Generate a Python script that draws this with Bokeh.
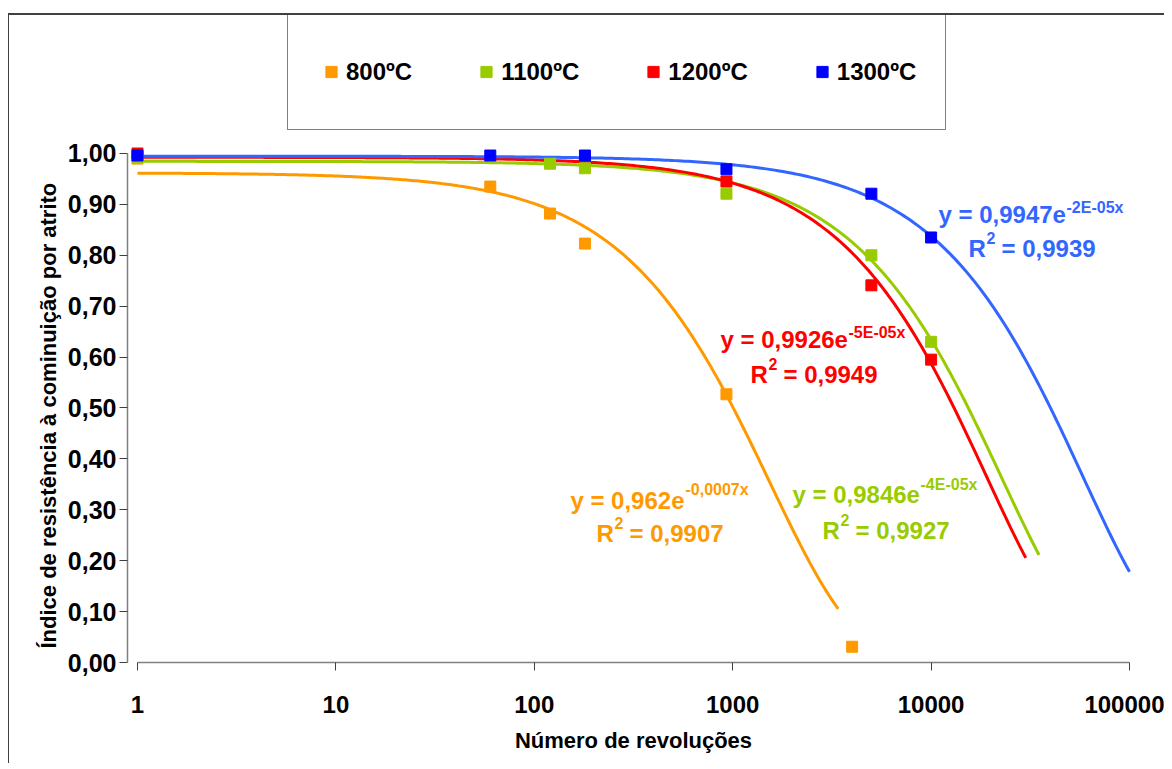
import numpy as np
from bokeh.plotting import figure
from bokeh.models import (ColumnDataSource, FixedTicker, CustomJSTickFormatter, Legend,
                          LegendItem, Label, Range1d, Title)
from bokeh.embed import file_html
from bokeh.resources import INLINE

FONT = "Liberation Sans"

# ---------------- data ----------------
series_labels = ["800ºC", "1100ºC", "1200ºC", "1300ºC"]
marker_colors = ["#FF9900", "#99CC00", "#FF0000", "#0000FF"]
line_colors = ["#FF9900", "#99CC00", "#FF0000", "#3366FF"]

x_800 = [1, 60, 120, 180, 930, 4000]
y_800 = [0.990, 0.935, 0.882, 0.823, 0.527, 0.031]
x_1100 = [1, 120, 180, 930, 5000, 10000]
y_1100 = [0.993, 0.980, 0.971, 0.921, 0.800, 0.630]
x_1200 = [1, 930, 5000, 10000]
y_1200 = [1.000, 0.945, 0.741, 0.595]
x_1300 = [1, 60, 180, 930, 5000, 10000]
y_1300 = [0.996, 0.996, 0.996, 0.969, 0.921, 0.835]

xs_all = [x_800, x_1100, x_1200, x_1300]
ys_all = [y_800, y_1100, y_1200, y_1300]

# exponential trendlines y = a * exp(b * x)  (b estimated from the drawn curves)
trend_a = [0.962, 0.9846, 0.9926, 0.9947]
trend_b = [-0.00065, -4.4e-05, -5.25e-05, -1.72e-05]
trend_end = [3400, 35000, 30000, 100000]

# trendline equations (text) and their anchor positions in data units
eq_main = ["y = 0,962e", "y = 0,9846e", "y = 0,9926e", "y = 0,9947e"]
eq_exp = ["-0,0007x", "-4E-05x", "-5E-05x", "-2E-05x"]
eq_r2 = ["= 0,9907", "= 0,9927", "= 0,9949", "= 0,9939"]
eq_main_x = [152, 2002, 868, 10898]
eq_main_y = [0.3187, 0.3297, 0.6347, 0.8802]
eq_exp_x = [578, 8843, 3834, 48140]
eq_exp_y = [0.3405, 0.3495, 0.6486, 0.8941]
eq_r2_x = [206, 2836, 1229, 15433]
eq_r2_y = [0.2527, 0.2593, 0.5657, 0.8133]

y_ticks = [0.0, 0.1, 0.2, 0.3, 0.4, 0.5, 0.6, 0.7, 0.8, 0.9, 1.0]
x_ticks = [1, 10, 100, 1000, 10000, 100000]

W, H = 1156, 750

# the plot frame extends up to the top of the chart area so that the legend box
# (drawn above the 1,00 level) is not clipped; the y axis itself stops at 1,00
p = figure(width=W, height=H, x_axis_type="log",
           x_range=Range1d(10 ** -0.0504, 10 ** 5.0504),
           y_range=Range1d(0, 1.2711),
           output_backend="svg", toolbar_location=None,
           min_border_left=118, min_border_right=26,
           min_border_top=0, min_border_bottom=103)
# outer chart frame (top and left edges)
p.styles = {"margin-left": "8px", "margin-top": "13px",
            "border-left": "1px solid #404040", "border-top": "2px solid #404040"}
p.outline_line_color = None
p.xgrid.visible = False
p.ygrid.visible = False
p.background_fill_color = "white"
p.border_fill_color = "white"

# trendlines
for i in range(4):
    tx = np.logspace(0, np.log10(trend_end[i]), 300)
    ty = trend_a[i] * np.exp(trend_b[i] * tx)
    p.line(tx, ty, line_color=line_colors[i], line_width=3)

# data points
renderers = []
for i in range(4):
    src = ColumnDataSource(dict(x=xs_all[i], y=ys_all[i]))
    r = p.scatter("x", "y", source=src, marker="square", size=11,
                  fill_color=marker_colors[i], line_color=marker_colors[i])
    renderers.append(r)

# equations
for i in range(4):
    common = dict(text_font=FONT, text_font_style="bold", text_color=line_colors[i],
                  text_align="left", text_baseline="alphabetic")
    p.add_layout(Label(x=eq_main_x[i], y=eq_main_y[i], text=eq_main[i],
                       text_font_size="24px", **common))
    p.add_layout(Label(x=eq_exp_x[i], y=eq_exp_y[i], text=eq_exp[i],
                       text_font_size="16px", **common))
    p.add_layout(Label(x=eq_r2_x[i], y=eq_r2_y[i], text="R",
                       text_font_size="24px", **common))
    p.add_layout(Label(x=eq_r2_x[i], y=eq_r2_y[i] + 0.0206, x_offset=18, text="2",
                       text_font_size="16px", **common))
    p.add_layout(Label(x=eq_r2_x[i], y=eq_r2_y[i], x_offset=33, text=eq_r2[i],
                       text_font_size="24px", **common))

# axes
for ax in (p.xaxis[0], p.yaxis[0]):
    ax.axis_line_color = "#808080"
    ax.axis_line_width = 1.5
    ax.major_tick_line_color = "#404040"
    ax.major_tick_in = 0
    ax.major_tick_out = 8
    ax.minor_tick_line_color = None
    ax.major_label_text_font = FONT
    ax.major_label_text_font_style = "bold"
    ax.major_label_text_color = "black"
    ax.axis_label_text_font = FONT
    ax.axis_label_text_font_style = "bold"
    ax.axis_label_text_font_size = "22px"
    ax.axis_label_text_color = "black"

p.yaxis.ticker = FixedTicker(ticks=y_ticks)
p.yaxis.formatter = CustomJSTickFormatter(code="return tick.toFixed(2).replace('.', ',');")
p.yaxis.bounds = (0, 1)
p.yaxis.major_label_text_font_size = "25px"
p.yaxis.major_label_standoff = 3

# y axis title, centred on the 0..1 part of the axis
p.add_layout(Title(text="Índice de resistência à cominuição por atrito", align="left",
                   offset=14, standoff=8, text_font=FONT, text_font_style="bold",
                   text_font_size="22px", text_color="black"), "left")

p.xaxis.ticker = FixedTicker(ticks=x_ticks)
p.xaxis.formatter = CustomJSTickFormatter(code="return tick.toFixed(0);")
p.xaxis.bounds = (1, 100000)
p.xaxis.major_label_text_font_size = "24px"
p.xaxis.major_label_standoff = 25
p.xaxis.axis_label = "Número de revoluções"
p.xaxis.axis_label_standoff = 12

legend = Legend(items=[LegendItem(label=series_labels[i], renderers=[renderers[i]]) for i in range(4)],
                orientation="horizontal", location=(160, 532),
                glyph_width=28, glyph_height=57, label_height=57,
                label_standoff=1, spacing=60,
                padding=29, margin=0, border_line_color="black", border_line_width=1,
                background_fill_color="white", background_fill_alpha=1,
                label_text_font=FONT, label_text_font_style="bold",
                label_text_font_size="24px", label_text_color="black")
p.add_layout(legend, "center")

open("out.html", "w").write(file_html(p, INLINE))
